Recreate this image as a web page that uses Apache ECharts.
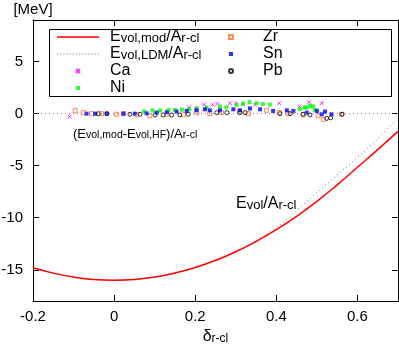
<!DOCTYPE html>
<html>
<head>
<meta charset="utf-8">
<script src="https://cdn.jsdelivr.net/npm/echarts@6/dist/echarts.min.js"></script>
<style>
  html, body { margin: 0; padding: 0; background: #fff; }
  #chart { width: 399px; height: 344px; }
</style>
</head>
<body>
<div id="chart"></div>
<script>
// tick labels
var xTicks = [-0.2, 0, 0.2, 0.4, 0.6];
var yTicks = [-15, -10, -5, 0, 5];

// E_vol,mod / A_r-cl  (red solid)
var modCurve = [
    [-0.2, -14.8], [-0.15, -15.32], [-0.1, -15.7], [-0.05, -15.93], [0, -16.0],
    [0.05, -15.93], [0.1, -15.7], [0.15, -15.31], [0.2, -14.78], [0.25, -14.1],
    [0.3, -13.27], [0.35, -12.28], [0.4, -11.15], [0.45, -9.87], [0.5, -8.43],
    [0.55, -6.84], [0.6, -5.15], [0.65, -3.45], [0.7, -1.7]
];
// E_vol,LDM / A_r-cl  (grey dotted)
var ldmCurve = [
    [-0.2, -14.8], [-0.15, -15.32], [-0.1, -15.7], [-0.05, -15.93], [0, -16.0],
    [0.05, -15.93], [0.1, -15.7], [0.15, -15.31], [0.2, -14.78], [0.25, -14.1],
    [0.3, -13.25], [0.35, -12.2], [0.4, -10.95], [0.45, -9.3], [0.5, -7.6],
    [0.55, -5.9], [0.6, -4.2], [0.65, -2.4], [0.7, -0.4]
];
var zeroLine = [[-0.2, 0], [0.7, 0]];

// (E_vol,mod - E_vol,HF) / A_r-cl
var caPoints = [
    [-0.11, -0.29], [0.185, 0.61], [0.204, 0.55], [0.222, 0.87], [0.243, 0.87],
    [0.255, 0.93], [0.286, 1.0], [0.3, 1.0], [0.318, 0.93], [0.347, 0.87],
    [0.407, 1.0], [0.457, 0.68], [0.481, 1.1], [0.512, 1.0]
];
var niPoints = [
    [0.074, 0.22], [0.095, 0.3], [0.113, 0.3], [0.134, 0.35], [0.15, 0.35],
    [0.167, 0.38], [0.185, 0.42], [0.203, 0.5], [0.228, 0.6], [0.261, 0.68],
    [0.277, 0.6], [0.302, 0.85], [0.318, 0.95], [0.334, 1.1], [0.351, 1.0],
    [0.367, 0.93], [0.384, 0.87], [0.458, 0.45], [0.47, 0.6], [0.475, 0.6],
    [0.483, 0.75], [0.491, 0.68], [0.495, 0.35]
];
var zrPoints = [
    [-0.096, 0.29], [-0.076, 0.1], [-0.055, 0.0], [-0.031, 0.0], [0.006, -0.06],
    [0.023, 0.0], [0.056, -0.1], [0.088, -0.2], [0.13, -0.06], [0.171, -0.1],
    [0.204, 0.1], [0.236, 0.0], [0.265, 0.1], [0.31, 0.2], [0.331, 0.0],
    [0.376, 0.32], [0.407, 0.1], [0.429, 0.0], [0.466, -0.1], [0.503, -0.2],
    [0.516, -0.55], [0.561, -0.06]
];
var snPoints = [
    [-0.068, 0.0], [-0.047, 0.0], [-0.018, 0.0], [0.023, 0.0], [0.051, 0.0],
    [0.08, 0.03], [0.105, 0.1], [0.13, 0.13], [0.154, 0.2], [0.179, 0.26],
    [0.203, 0.32], [0.224, 0.42], [0.236, 0.32], [0.261, 0.32], [0.294, 0.42],
    [0.31, 0.32], [0.335, 0.5], [0.36, 0.42], [0.392, 0.26], [0.426, 0.32],
    [0.442, 0.26], [0.475, 0.1], [0.5, 0.26], [0.512, -0.06], [0.52, 0.2],
    [0.536, -0.06]
];
var pbPoints = [
    [-0.039, 0.0], [-0.018, 0.0], [0.039, -0.06], [0.064, -0.06], [0.101, -0.12],
    [0.121, -0.12], [0.142, -0.12], [0.162, -0.12], [0.183, -0.06], [0.253, 0.1],
    [0.278, 0.1], [0.31, 0.1], [0.323, 0.1], [0.409, 0.0], [0.434, 0.0],
    [0.466, -0.06], [0.483, -0.12], [0.524, -0.45], [0.534, -0.4], [0.562, -0.06]
];

var FONT = 'Liberation Sans';
var rich = {
    m: {fontSize: 16, fontFamily: FONT, color: '#000', lineHeight: 16, verticalAlign: 'bottom'},
    s: {fontSize: 13, fontFamily: FONT, color: '#000', lineHeight: 11, verticalAlign: 'bottom'}
};
var crossSymbol = 'path://M0,0L10,10M10,0L0,10';
var squareIcon = 'path://M0,0L10,0L10,10L0,10Z';
var solidIcon = 'path://M0,0L42,0L42,1.5L0,1.5Z';
// dotted sample for the legend
var dotted = 'path://';
for (var i = 0; i < 42; i += 3) {
    dotted += 'M' + i + ',0L' + (i + 1) + ',0L' + (i + 1) + ',1L' + i + ',1Z';
}

function legendText(name) {
    if (name === 'mod') return '{m|E}{s|vol,mod}{m|/A}{s|r-cl}';
    if (name === 'ldm') return '{m|E}{s|vol,LDM}{m|/A}{s|r-cl}';
    return '{m|' + name + '}';
}

function axisLine() {
    return {onZero: false, lineStyle: {color: '#000', width: 1}};
}

var chart = echarts.init(document.getElementById('chart'));
var option = {
    animation: false,
    textStyle: {fontFamily: FONT, color: '#000'},
    grid: {left: 33, right: 1, top: 20, bottom: 43, outerBoundsMode: 'none', containLabel: false},
    legend: [
        {
            data: [{name: 'mod', icon: solidIcon}, {name: 'ldm', icon: dotted}, 'Ca', {name: 'Ni', icon: squareIcon}],
            orient: 'vertical', left: 52, top: 24,
            itemWidth: 42, itemHeight: 4, itemGap: 1,
            formatter: legendText,
            textStyle: {rich: rich, padding: [0, 0, 0, 6]}
        },
        {
            data: [{name: 'Zr', icon: squareIcon}, {name: 'Sn', icon: squareIcon}, 'Pb'],
            orient: 'vertical', left: 223, top: 24,
            itemWidth: 42, itemHeight: 4, itemGap: 1,
            formatter: legendText,
            textStyle: {rich: rich, padding: [0, 0, 0, 6]}
        }
    ],
    graphic: [
        {
            type: 'rect', left: 47, top: 27, silent: true,
            shape: {width: 342, height: 67},
            style: {fill: 'none', stroke: '#000', lineWidth: 1}
        },
        {
            type: 'text', left: 73, top: 128, silent: true,
            style: {
                text: '{m|(E}{s|vol,mod}{m|-E}{s|vol,HF}{m|)/A}{s|r-cl}',
                rich: {
                    m: {fontSize: 13, fontFamily: FONT, lineHeight: 14, verticalAlign: 'bottom'},
                    s: {fontSize: 10.5, fontFamily: FONT, lineHeight: 9, verticalAlign: 'bottom'}
                }
            }
        },
        {
            type: 'text', left: 236, top: 196, silent: true,
            style: {
                text: '{m|E}{s|vol}{m|/A}{s|r-cl}',
                rich: {
                    m: {fontSize: 16, fontFamily: FONT, lineHeight: 17, verticalAlign: 'bottom'},
                    s: {fontSize: 13, fontFamily: FONT, lineHeight: 11, verticalAlign: 'bottom'}
                }
            }
        }
    ],
    xAxis: [
        {
            type: 'value', min: -0.2, max: 0.7, position: 'bottom',
            name: '{d|δ}{s|r-cl}', nameLocation: 'middle', nameGap: 26,
            nameTextStyle: {
                rich: {
                    d: {fontSize: 16, fontFamily: FONT, lineHeight: 17, verticalAlign: 'bottom'},
                    s: {fontSize: 12, fontFamily: FONT, lineHeight: 11, verticalAlign: 'bottom'}
                }
            },
            axisLine: axisLine(),
            axisTick: {inside: true, length: 6, customValues: xTicks, lineStyle: {color: '#000'}},
            axisLabel: {customValues: xTicks, margin: 8, fontSize: 15, color: '#000', fontFamily: FONT},
            splitLine: {show: false}
        },
        {
            type: 'value', min: -0.2, max: 0.7, position: 'top',
            axisLine: axisLine(),
            axisTick: {inside: true, length: 6, customValues: xTicks, lineStyle: {color: '#000'}},
            axisLabel: {show: false},
            splitLine: {show: false}
        }
    ],
    yAxis: [
        {
            type: 'value', min: -18, max: 9, position: 'left',
            name: '[MeV]', nameLocation: 'end', nameGap: 3,
            nameTextStyle: {fontSize: 15, color: '#000', fontFamily: FONT, align: 'center'},
            axisLine: axisLine(),
            axisTick: {inside: true, length: 6, customValues: yTicks, lineStyle: {color: '#000'}},
            axisLabel: {customValues: yTicks, margin: 10, fontSize: 15, color: '#000', fontFamily: FONT},
            splitLine: {show: false}
        },
        {
            type: 'value', min: -18, max: 9, position: 'right',
            axisLine: axisLine(),
            axisTick: {inside: true, length: 6, customValues: yTicks, lineStyle: {color: '#000'}},
            axisLabel: {show: false},
            splitLine: {show: false}
        }
    ],
    series: [
        {
            name: 'zero', type: 'line', data: zeroLine, symbol: 'none', silent: true,
            lineStyle: {color: '#777', width: 1, type: [1, 3]}
        },
        {
            name: 'ldm', type: 'line', data: ldmCurve, symbol: 'none', smooth: true,
            lineStyle: {color: '#777', width: 1, type: [1, 3]},
            itemStyle: {color: '#777'}
        },
        {
            name: 'mod', type: 'line', data: modCurve, symbol: 'none', smooth: true,
            lineStyle: {color: '#ff0000', width: 1.5},
            itemStyle: {color: '#ff0000'}
        },
        {
            name: 'Ca', type: 'scatter', data: caPoints, symbol: crossSymbol, symbolSize: 4,
            itemStyle: {color: 'none', borderColor: '#ff00ff', borderWidth: 1}
        },
        {
            name: 'Ni', type: 'scatter', data: niPoints, symbol: 'rect', symbolSize: 4,
            itemStyle: {color: '#00ff00'}
        },
        {
            name: 'Zr', type: 'scatter', data: zrPoints, symbol: 'rect', symbolSize: 4,
            itemStyle: {color: 'rgba(0,0,0,0)', borderColor: '#ff6a2a', borderWidth: 1}
        },
        {
            name: 'Sn', type: 'scatter', data: snPoints, symbol: 'rect', symbolSize: 4,
            itemStyle: {color: '#0000ff'}
        },
        {
            name: 'Pb', type: 'scatter', data: pbPoints, symbol: 'circle', symbolSize: 4,
            itemStyle: {color: 'rgba(0,0,0,0)', borderColor: '#000', borderWidth: 1}
        }
    ]
};
option && chart.setOption(option);
</script>
</body>
</html>
